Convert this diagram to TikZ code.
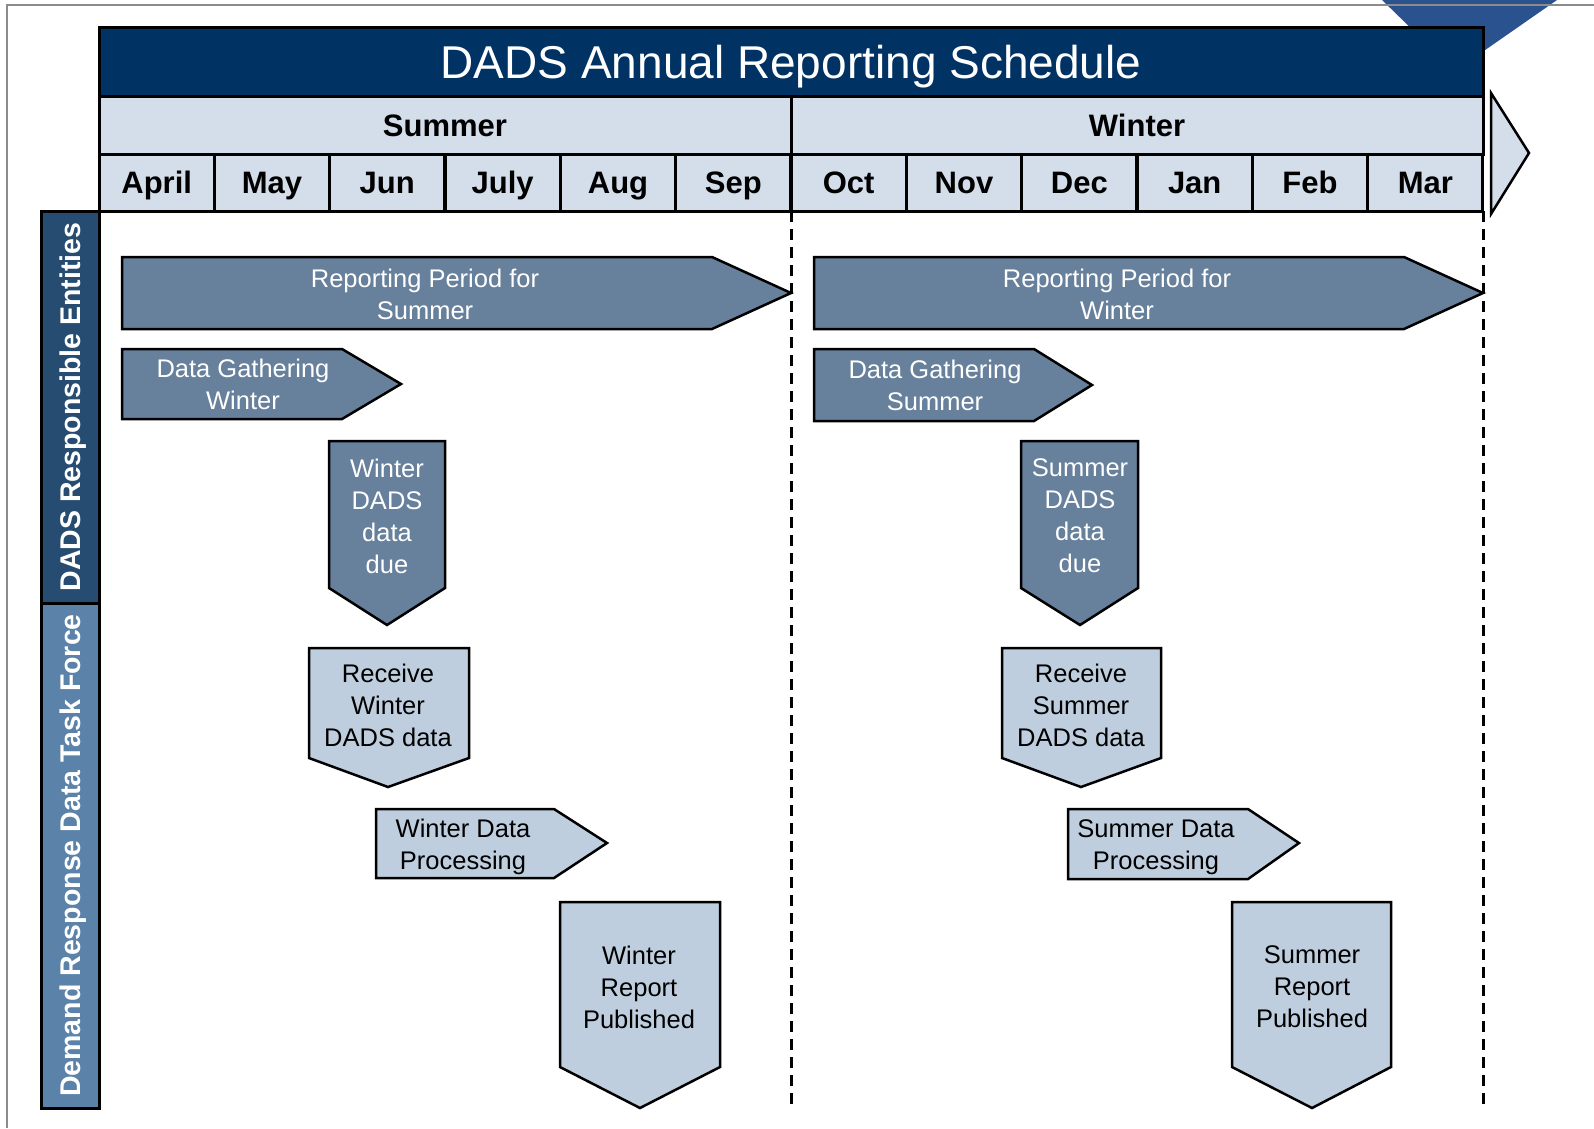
\documentclass[tikz,border=0pt]{standalone}
\usepackage{fontspec}
\setmainfont{Liberation Sans}
\usepackage{xcolor}
\usepackage{tikz}

\definecolor{navy}{HTML}{003263}
\definecolor{paleblue}{HTML}{D4DEEA}
\definecolor{slate}{HTML}{67809B}
\definecolor{lightslate}{HTML}{BFCEDE}
\definecolor{dadsblue}{HTML}{264C72}
\definecolor{drblue}{HTML}{5B83A9}
\definecolor{cornerblue}{HTML}{2A528E}
\definecolor{framegray}{HTML}{8C8C8C}

\begin{document}
\begin{tikzpicture}[x=1pt,y=-1pt,
    cell/.style={draw, line width=3pt, fill=paleblue, inner sep=0pt, minimum height=57pt, minimum width=115.33pt, text height=22pt, text depth=0pt, font=\fontsize{31}{34}\selectfont\bfseries},
    season/.style={cell, minimum height=58pt, minimum width=692pt},
    dark/.style={draw, line width=2.5pt, fill=slate},
    light/.style={draw, line width=2.5pt, fill=lightslate},
    wtext/.style={text=white, align=center, inner sep=0pt, font=\fontsize{25.5}{32}\selectfont},
    btext/.style={wtext, text=black},
    side/.style={draw, line width=3pt, rotate=90, inner sep=0pt, minimum height=58pt, text=white, text height=20.5pt, text depth=0pt, font=\fontsize{28.5}{30}\selectfont\bfseries},
    period/.style={dash pattern=on 11pt off 7pt, line width=3pt}]
    \useasboundingbox (0,0) rectangle (1594,1128);
    \fill[cornerblue] (1382,0) -- (1557,0) -- (1455,71) -- cycle;
    \draw[framegray, line width=2pt] (7,1128) -- (7,5) -- (1594,5);

    \node[draw, line width=3pt, fill=navy, minimum width=1384pt, minimum height=69pt, inner sep=0pt, text=white, text height=33pt, text depth=0pt, font=\fontsize{46}{50}\selectfont] (title) at (791,61.5) {DADS Annual Reporting Schedule};
    \node[season] (summer) at (445,125) {Summer};
    \node[season] (winter) at (1137,125) {Winter};
    \node[cell] (apr) at (156.7,182.5) {April};
    \node[cell] (may) at (272.0,182.5) {May};
    \node[cell] (jun) at (387.3,182.5) {Jun};
    \node[cell] (jul) at (502.7,182.5) {July};
    \node[cell] (aug) at (618.0,182.5) {Aug};
    \node[cell] (sep) at (733.3,182.5) {Sep};
    \node[cell] (oct) at (848.7,182.5) {Oct};
    \node[cell] (nov) at (964.0,182.5) {Nov};
    \node[cell] (dec) at (1079.3,182.5) {Dec};
    \node[cell] (jan) at (1194.7,182.5) {Jan};
    \node[cell] (feb) at (1310.0,182.5) {Feb};
    \node[cell] (mar) at (1425.3,182.5) {Mar};
    \draw[fill=paleblue, line width=2.5pt] (1491,93) -- (1529,153) -- (1491,214) -- cycle;

    \node[side, fill=dadsblue, minimum width=392pt] (dads) at (70,407) {DADS Responsible Entities};
    \node[side, fill=drblue, minimum width=505pt] (drtf) at (70,855.5) {Demand Response Data Task Force};

    \draw[period] (791,211) -- (791,1108);
    \draw[period] (1483,211) -- (1483,1108);

    \draw[dark] (122,257) -- (712,257) -- (791,293) -- (712,329) -- (122,329) -- cycle;
    \node[wtext] (rpsummer) at (425,294) {Reporting Period for\\Summer};
    \draw[dark] (814,257) -- (1404,257) -- (1483,293) -- (1404,329) -- (814,329) -- cycle;
    \node[wtext] (rpwinter) at (1117,294) {Reporting Period for\\Winter};
    \draw[dark] (122,349) -- (342,349) -- (401,384) -- (342,419) -- (122,419) -- cycle;
    \node[wtext] (dgwinter) at (243,384) {Data Gathering\\Winter};
    \draw[dark] (814,349) -- (1034,349) -- (1092,385) -- (1034,421) -- (814,421) -- cycle;
    \node[wtext] (dgsummer) at (935,385) {Data Gathering\\Summer};

    \draw[dark] (329,441) -- (445,441) -- (445,588) -- (387,625) -- (329,588) -- cycle;
    \node[wtext] (wdue) at (387,516) {Winter\\DADS\\data\\due};
    \draw[dark] (1021,441) -- (1138,441) -- (1138,588) -- (1080,625) -- (1021,588) -- cycle;
    \node[wtext] (sdue) at (1080,516) {Summer\\DADS\\data\\due};

    \draw[light] (309,648) -- (469,648) -- (469,758) -- (388,787) -- (309,758) -- cycle;
    \node[btext] (wrecv) at (388,705) {Receive\\Winter\\DADS data};
    \draw[light] (1002,648) -- (1161,648) -- (1161,758) -- (1081,787) -- (1002,758) -- cycle;
    \node[btext] (srecv) at (1081,705) {Receive\\Summer\\DADS data};

    \draw[light] (376,809) -- (554,809) -- (607,843) -- (554,878) -- (376,878) -- cycle;
    \node[btext] (wproc) at (463,847) {Winter Data\\Processing};
    \draw[light] (1068,809) -- (1248,809) -- (1299,843) -- (1248,879) -- (1068,879) -- cycle;
    \node[btext] (sproc) at (1156,847) {Summer Data\\Processing};

    \draw[light] (560,902) -- (720,902) -- (720,1067) -- (640,1108) -- (560,1067) -- cycle;
    \node[btext] (wpub) at (639,987) {Winter\\Report\\Published};
    \draw[light] (1232,902) -- (1391,902) -- (1391,1067) -- (1312,1108) -- (1232,1067) -- cycle;
    \node[btext] (spub) at (1312,987) {Summer\\Report\\Published};
\end{tikzpicture}
\end{document}
